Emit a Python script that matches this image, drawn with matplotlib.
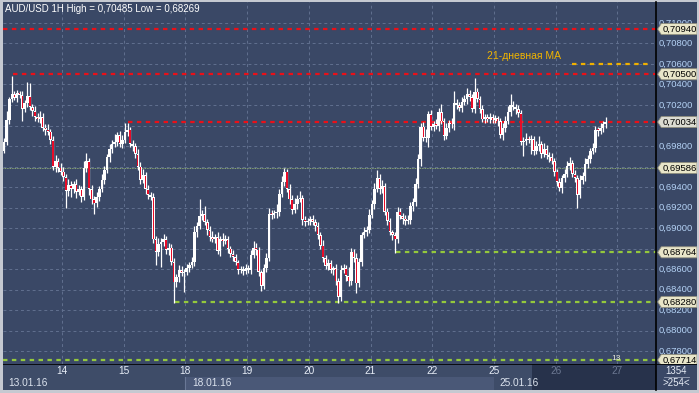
import matplotlib
matplotlib.use("Agg")
import matplotlib.pyplot as plt
import numpy as np
from matplotlib.patches import Polygon, Rectangle

plt.rcParams['font.family'] = ['Liberation Sans', 'DejaVu Sans']

# hourly AUD/USD candles, prices in pips (price * 10000)
first_open = 6975
close_13 = [6984, 7005, 7026, 7031, 7027, 7032, 7030, 7016, 7022, 7029, 7018, 7014,
            7008, 7006, 7008, 6998, 6996, 6994, 6986, 6960, 6965, 6959, 6955]
close_14 = [6950, 6936, 6942, 6938, 6943, 6935, 6938, 6930, 6959, 6965, 6938, 6928,
            6924, 6930, 6938, 6947, 6957, 6969, 6977, 6982, 6984, 6991, 6982, 6986]
close_15 = [6994, 6996, 6982, 6980, 6972, 6960, 6947, 6952, 6938, 6932, 6930, 6889,
            6877, 6884, 6886, 6889, 6879, 6881, 6867, 6847, 6852, 6859, 6856, 6857]
close_18 = [6861, 6864, 6867, 6896, 6902, 6912, 6914, 6906, 6898, 6891, 6889, 6891,
            6878, 6889, 6887, 6889, 6880, 6875, 6872, 6867, 6859, 6860, 6858, 6861]
close_19 = [6859, 6874, 6881, 6879, 6857, 6844, 6861, 6871, 6914, 6913, 6915, 6916,
            6933, 6945, 6955, 6938, 6928, 6918, 6923, 6928, 6929, 6908, 6906, 6907]
close_20 = [6909, 6906, 6902, 6893, 6883, 6871, 6863, 6866, 6859, 6861, 6848, 6833,
            6859, 6861, 6853, 6848, 6877, 6871, 6846, 6867, 6893, 6896, 6898, 6913]
close_21 = [6923, 6938, 6949, 6938, 6941, 6916, 6907, 6896, 6893, 6889, 6916, 6912,
            6909, 6907, 6908, 6922, 6925, 6943, 6967, 6999, 6988, 6988, 7011, 6999]
close_22 = [7001, 7000, 7013, 7004, 6990, 6998, 7002, 7001, 7022, 7020, 7017, 7023,
            7026, 7031, 7028, 7016, 7033, 7026, 7016, 7006, 7008, 7006, 7008, 7005]
close_25 = [7007, 7004, 6991, 6998, 7004, 7013, 7020, 7018, 7016, 7012, 6984, 6985,
            6987, 6986, 6987, 6975, 6980, 6982, 6972, 6977, 6971, 6969, 6965, 6955]
close_26 = [6945, 6939, 6949, 6953, 6961, 6963, 6953, 6949, 6932, 6947, 6951, 6962,
            6967, 6975, 6978, 6996, 6995, 6998, 7001, 7003]

# wick lengths above / below the body, pips
wick_up = [4, 9, 2, 17, 3, 3, 2, 4, 3, 13, 12, 3, 5, 4, 6, 4, 3, 5, 3, 4, 6, 3, 4,
           5, 3, 6, 4, 3, 5, 4, 3, 6, 8, 3, 4, 3, 5, 3, 6, 4, 3, 5, 4, 8, 3, 4, 5,
           8, 6, 3, 4, 3, 5, 4, 6, 3, 4, 3, 4, 3, 6, 4, 5, 3, 4, 3, 4, 3, 5, 4, 3,
           4, 3, 5, 6, 4, 16, 4, 8, 3, 4, 6, 3, 5, 3, 6, 4, 3, 3, 4, 3, 2, 3, 3, 4,
           3, 5, 6, 4, 3, 2, 4, 5, 6, 4, 3, 7, 5, 6, 4, 3, 5, 4, 6, 4, 7, 3, 4, 3,
           3, 4, 3, 4, 3, 5, 3, 4, 3, 2, 4, 3, 5, 4, 3, 9, 4, 3, 5, 4, 3, 5, 4, 6,
           4, 6, 8, 4, 6, 3, 4, 3, 2, 3, 5, 4, 3, 4, 5, 3, 4, 6, 5, 3, 4, 9, 3, 4,
           3, 5, 4, 8, 3, 4, 3, 5, 12, 4, 3, 5, 4, 6, 4, 3, 13, 4, 3, 4, 3, 3, 4, 3,
           3, 2, 3, 4, 5, 6, 11, 4, 3, 4, 3, 4, 6, 3, 4, 3, 5, 8, 3, 6, 4, 3, 4, 3,
           3, 4, 3, 5, 4, 6, 3, 4, 3, 5, 4, 6, 4, 3, 5, 4, 3, 4, 3, 5]
wick_dn = [2, 3, 4, 3, 2, 4, 3, 12, 3, 4, 3, 5, 4, 3, 4, 3, 5, 3, 4, 3, 5, 4, 3,
           4, 16, 5, 8, 4, 6, 3, 5, 3, 4, 6, 5, 10, 3, 4, 3, 4, 3, 5, 4, 3, 4, 3, 4,
           3, 4, 3, 5, 4, 3, 4, 3, 5, 4, 3, 4, 13, 4, 22, 3, 4, 5, 3, 20, 4, 5, 3, 18,
           3, 4, 3, 4, 5, 3, 4, 3, 5, 4, 3, 4, 3, 5, 4, 3, 4, 3, 4, 3, 4, 3, 4, 3,
           3, 4, 3, 5, 4, 5, 3, 4, 3, 4, 3, 5, 4, 3, 4, 3, 5, 4, 3, 4, 3, 5, 4, 3,
           4, 3, 5, 4, 3, 4, 3, 4, 3, 5, 3, 6, 4, 3, 5, 4, 3, 4, 9, 3, 4, 3, 4, 3,
           3, 4, 3, 5, 4, 3, 4, 3, 5, 13, 4, 3, 5, 4, 3, 4, 5, 3, 4, 6, 3, 4, 9, 3,
           4, 3, 5, 3, 4, 3, 4, 3, 5, 4, 3, 4, 3, 5, 4, 3, 4, 3, 4, 3, 4, 3, 4, 3,
           3, 4, 3, 5, 4, 3, 4, 3, 5, 4, 3, 14, 4, 3, 14, 4, 3, 5, 4, 3, 4, 5, 3, 4,
           4, 3, 5, 4, 3, 4, 3, 4, 12, 3, 4, 5, 3, 4, 3, 4, 5, 3, 4, 3]

day_labels = ['14', '15', '18', '19', '20', '21', '22', '25', '26', '27']
week_labels = ['13.01.16', '18.01.16', '25.01.16']
price_ticks = list(range(6780, 7101, 20))

red_levels = [7094.0, 7050.0, 7003.4]
green_levels = [6876.4, 6828.0, 6771.4]
thin_level = 6958.6
ma_level = 7060.0
tagged = [7094.0, 7050.0, 7003.4, 6958.6, 6876.4, 6828.0, 6771.4]

BG = '#3a4866'
W, H = 699, 393


def rect(x0, y0, x1, y1):
    return [x0 / W, 1 - y1 / H, (x1 - x0) / W, (y1 - y0) / H]


def fmt(p):
    return ('%.5f' % (p / 10000)).replace('.', ',')


def bare(a):
    a.set_xticks([])
    a.set_yticks([])
    for s in a.spines.values():
        s.set_visible(False)


closes = np.array(close_13 + close_14 + close_15 + close_18 + close_19 +
                  close_20 + close_21 + close_22 + close_25 + close_26, dtype=float)
opens = np.concatenate([[first_open], closes[:-1]])
highs = np.maximum(opens, closes) + np.array(wick_up)
lows = np.minimum(opens, closes) - np.array(wick_dn)
xs = np.arange(1, len(closes) + 1) + 0.5

XLIM = (1.05, 255.04)
YLIM = (6767.5, 7120.4)

fig = plt.figure(figsize=(6.99, 3.93), dpi=100)
fig.patch.set_facecolor('#c5c9d1')

ax = fig.add_axes(rect(3, 2, 656, 364))
ax.set_facecolor(BG)
ax.set_xlim(*XLIM)
ax.set_ylim(*YLIM)
bare(ax)

grid_kw = dict(color='#61708f', lw=0.7, dashes=(3, 3), zorder=1)
for p in price_ticks:
    ax.axhline(p, **grid_kw)
for k in range(1, len(day_labels) + 1):
    ax.axvline(24 * k, **grid_kw)

# level lines
lvl = dict(lw=1.6, dashes=(2, 2), zorder=2)
ax.plot([XLIM[0], XLIM[1]], [red_levels[0]] * 2, color='#ea1018', **lvl)
ax.plot([4.94, XLIM[1]], [red_levels[1]] * 2, color='#ea1018', **lvl)
ax.plot([49.7, XLIM[1]], [red_levels[2]] * 2, color='#ea1018', **lvl)
ax.plot([153.9, XLIM[1]], [green_levels[0]] * 2, color='#94c83c', **lvl)
ax.plot([67.95, XLIM[1]], [green_levels[1]] * 2, color='#94c83c', **lvl)
ax.plot([XLIM[0], XLIM[1]], [green_levels[2]] * 2, color='#94c83c', **lvl)
ax.plot([XLIM[0], XLIM[1]], [thin_level] * 2, color='#a9c97a', lw=0.6, dashes=(1, 1), zorder=2)
ax.plot([222.4, 253.5], [ma_level] * 2, color='#f0b000', **lvl)
ax.text(189.5, 7067.5, '21-дневная MA', color='#f0b400', fontsize=7.5, va='center', ha='left')

# candles
ax.vlines(xs, lows, highs, color='white', lw=0.9, zorder=3)
body_lo = np.minimum(opens, closes)
body_h = np.maximum(np.abs(closes - opens), 1.0)
ax.bar(xs, body_h, bottom=body_lo, width=1.0, color='white', lw=0, zorder=4)
bear = closes < opens
ax.bar(xs[bear], np.maximum(body_h[bear] - 1.6, 0.6), bottom=body_lo[bear] + 0.8,
       width=0.5, color='#e80c28', lw=0, zorder=5)

ax.text(239.3, 6773, '13', color='#e8e8d8', fontsize=6, ha='center', va='center', zorder=6)
fig.text(5 / W, 1 - 9.5 / H, 'AUD/USD 1H High = 0,70485 Low = 0,68269',
         color='white', fontsize=7, va='center', ha='left')

# price panel
axr = fig.add_axes(rect(656, 2, 697, 364))
axr.set_facecolor(BG)
axr.set_xlim(0, 1)
axr.set_ylim(*YLIM)
bare(axr)
for p in price_ticks:
    # labels lying fully under a tag box are hidden in the original
    if min(abs(p - t) for t in tagged) < 4:
        continue
    axr.text(0.07, p, fmt(p), color='#b4d2f5', fontsize=6.8, va='center', ha='left')
hh = 5.4
for p in tagged:
    fc = '#dcdcd2' if p == 7003.4 else '#e9e6c9'
    axr.add_patch(Polygon([(0.04, p), (0.13, p + hh), (1.0, p + hh), (1.0, p - hh), (0.13, p - hh)],
                          closed=True, fc=fc, ec='#8d8c7c', lw=0.6, zorder=5))
    axr.text(0.15, p, fmt(p), color='black', fontsize=6.8, va='center', ha='left', zorder=6)

# date strip
axd = fig.add_axes(rect(3, 364, 656, 390))
axd.set_xlim(*XLIM)
axd.set_ylim(0, 2)
axd.set_facecolor('#3e4c68')
bare(axd)
axd.add_patch(Rectangle((72, 0), 120, 1, fc='#4a5877', lw=0))
axd.add_patch(Rectangle((206.9, 0), 60, 2, fc='#27324b', lw=0))
axd.plot([72, 72], [0, 1], color='#6a7896', lw=0.8)
axd.axhline(2, color='black', lw=1.2)
for k, lab in enumerate(day_labels, start=1):
    col = '#6c7892' if 24 * k > 206 else '#e6ecf6'
    axd.text(24 * k, 1.5, lab, color=col, fontsize=7.3, ha='center', va='center')
for pos, lab in zip([3.2, 74.5, 194.3], week_labels):
    axd.text(pos, 0.5, lab, color='#dce3ee', fontsize=7.3, ha='left', va='center')

# corner
axc = fig.add_axes(rect(656, 364, 697, 390))
axc.set_facecolor(BG)
axc.set_xlim(0, 1)
axc.set_ylim(0, 2)
bare(axc)
axc.axhline(2, color='black', lw=1.2)
axc.plot([0.2, 0.8], [1.0, 1.0], color='#9aa4b8', lw=0.6)
axc.text(0.5, 1.5, '1354', color='#e6ecf6', fontsize=7, ha='center', va='center')
axc.text(0.5, 0.5, '>254<', color='#e6ecf6', fontsize=7, ha='center', va='center')

fig.add_artist(plt.Line2D([656 / W, 656 / W], [1 - 390 / H, 1 - 2 / H], color='black', lw=1.2))

fig.savefig('out.png', dpi=100, facecolor=fig.get_facecolor())
